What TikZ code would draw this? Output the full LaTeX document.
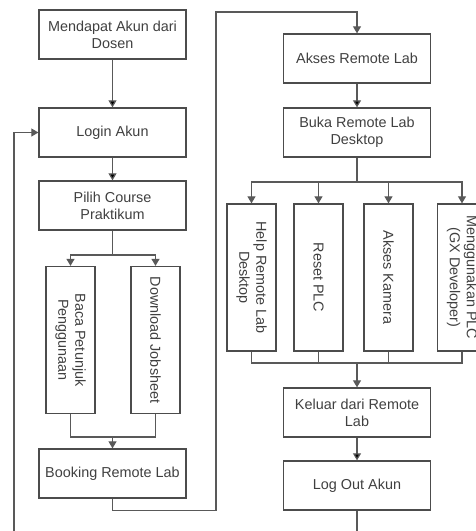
\documentclass[tikz,border=0pt]{standalone}
\usepackage{fontspec}
\setmainfont{Liberation Sans}
\usetikzlibrary{arrows.meta}

\tikzset{
  wbox/.style={shape=rectangle, draw=black!70, line width=0.7pt, minimum width=2.94cm, minimum height=0.98cm, align=center, text=black!75, inner sep=1pt, font=\fontsize{8.2}{9.7}\selectfont},
  tbox/.style={wbox, rotate=-90},
  line/.style={draw=black!65, line width=0.7pt},
  arr/.style={line, -{Triangle[length=4pt,width=4.5pt]}}
}

\begin{document}
\begin{tikzpicture}[x=0.02cm, y=-0.02cm]
			\useasboundingbox (0,0) rectangle (476,531);
			\clip (0,0) rectangle (476,531);

			\node[wbox] (akun) at (112.5,34.5) {Mendapat Akun dari\\Dosen};
			\node[wbox] (login) at (112.5,132.5) {Login Akun};
			\node[wbox] (course) at (112.5,205.5) {Pilih Course\\Praktikum};
			\node[tbox] (petunjuk) at (70.5,340) {Baca Petunjuk\\Penggunaan};
			\node[tbox] (jobsheet) at (155.5,340) {Download Jobsheet};
			\node[wbox] (booking) at (112.5,473.5) {Booking Remote Lab};

			\node[wbox] (akses) at (357,58.5) {Akses Remote Lab};
			\node[wbox] (buka) at (357,132.5) {Buka Remote Lab\\Desktop};
			\node[tbox] (help) at (251.5,277.5) {Help Remote Lab\\Desktop};
			\node[tbox] (reset) at (318.5,277.5) {Reset PLC};
			\node[tbox] (kamera) at (388.5,277.5) {Akses Kamera};
			\node[tbox] (gx) at (462,277.5) {Menggunakan PLC\\(GX Developer)};
			\node[wbox] (keluar) at (357,412.5) {Keluar dari Remote\\Lab};
			\node[wbox] (logout) at (357,485.5) {Log Out Akun};

			\coordinate (splitL) at (112.5,255);
			\coordinate (joinL) at (112.5,437);
			\coordinate (splitR) at (357,182);
			\coordinate (joinR) at (357,363);

			\path [arr] (akun) edge (login);
			\path [arr] (login) edge (course);
			\draw [line] (course.south) -- (splitL);
			\draw [arr] (splitL) -| (petunjuk.west);
			\draw [arr] (splitL) -| (jobsheet.west);
			\draw [line] (petunjuk.east) |- (joinL) -| (jobsheet.east);
			\draw [arr] (joinL) -- (booking.north);
			\draw [arr] (booking.south) -- ++(0,12) -| (216,12) -| (akses.north);

			\path [arr] (akses) edge (buka);
			\draw [line] (buka.south) -- (splitR);
			\draw [arr] (splitR) -| (help.west);
			\draw [arr] (splitR) -| (reset.west);
			\draw [arr] (splitR) -| (kamera.west);
			\draw [arr] (splitR) -| (gx.west);
			\draw [line] (help.east) |- (joinR);
			\draw [line] (reset.east) |- (joinR);
			\draw [line] (kamera.east) |- (joinR);
			\draw [line] (gx.east) |- (joinR);
			\draw [arr] (joinR) -- (keluar.north);
			\path [arr] (keluar) edge (logout);
			\draw [arr] (logout.south) -- ++(0,30) -| (14,132.5) -- (login.west);
\end{tikzpicture}
\end{document}
